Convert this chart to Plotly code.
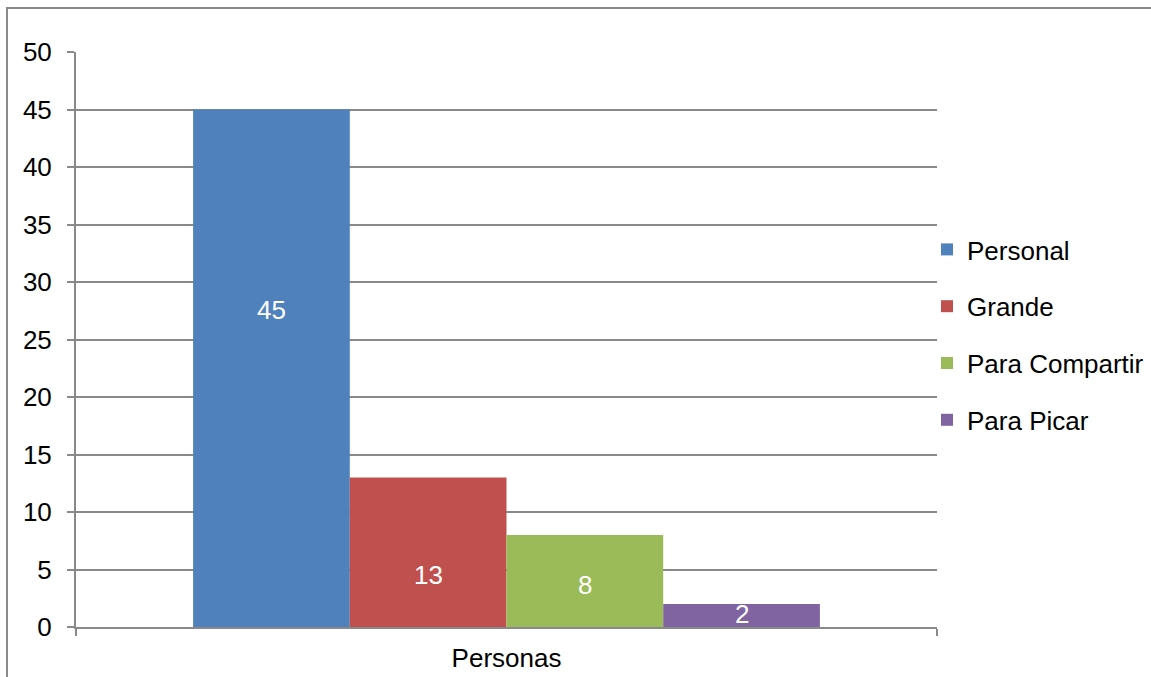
import plotly.graph_objects as go

# Chart data
category = ["Personas"]
series_names = ["Personal", "Grande", "Para Compartir", "Para Picar"]
series_values = [45, 13, 8, 2]
series_colors = ["#4F81BD", "#C0504D", "#9BBB59", "#8064A2"]
# heights (axis units) at which the value labels sit inside each bar
label_heights = [27.6, 4.5, 3.65, 1.1]

y_ticks = [0, 5, 10, 15, 20, 25, 30, 35, 40, 45, 50]

FONT = "Liberation Sans, Arial, sans-serif"
FS = 26
GRID = "#898989"
BARGAP = 0.272

fig = go.Figure()
for name, val, col in zip(series_names, series_values, series_colors):
    fig.add_trace(go.Bar(
        x=category, y=[val], name=name,
        marker=dict(color=col, line=dict(width=0)),
        legendgroup=name,
    ))

# value labels, centred horizontally on each bar of the group
n = len(series_values)
w = (1 - BARGAP) / n
for i, (val, h) in enumerate(zip(series_values, label_heights)):
    xc = -(1 - BARGAP) / 2 + w * (i + 0.5)
    fig.add_annotation(
        x=xc, y=h, xref="x", yref="y", text=str(val), showarrow=False,
        font=dict(family=FONT, size=FS, color="white"),
    )

# outer chart-area border
fig.add_shape(
    type="rect", xref="paper", yref="paper",
    x0=(7 - 76) / 861, x1=1.5, y0=-0.5, y1=(627 - 8) / 575,
    line=dict(color=GRID, width=2), fillcolor="rgba(0,0,0,0)", layer="below",
)

fig.update_layout(
    width=1151, height=677,
    margin=dict(l=76, r=214, t=52, b=50, autoexpand=False),
    paper_bgcolor="white", plot_bgcolor="white",
    barmode="group", bargap=BARGAP, bargroupgap=0,
    font=dict(family=FONT, size=FS, color="black"),
    showlegend=True,
    legend=dict(
        x=(927 - 76) / 861, y=(627 - 226) / 575, xanchor="left", yanchor="top",
        font=dict(family=FONT, size=FS, color="black"),
        tracegroupgap=20, itemwidth=30, bgcolor="rgba(0,0,0,0)",
    ),
    xaxis=dict(
        type="category", range=[-0.5, 0.5], automargin=False,
        showline=True, linecolor=GRID, linewidth=2,
        ticks="outside", tickson="boundaries", ticklen=7, tickcolor=GRID, tickwidth=2,
        showgrid=False, ticklabelstandoff=7,
        tickfont=dict(family=FONT, size=FS, color="black"),
    ),
    yaxis=dict(
        range=[0, 50], tickvals=y_ticks, automargin=False,
        showline=True, linecolor=GRID, linewidth=2,
        ticks="outside", ticklen=7, tickcolor=GRID, tickwidth=2,
        showgrid=True, gridcolor=GRID, gridwidth=2,
        zeroline=False, ticklabelstandoff=10,
        tickfont=dict(family=FONT, size=FS, color="black"),
    ),
)

fig.write_html("out.html")
